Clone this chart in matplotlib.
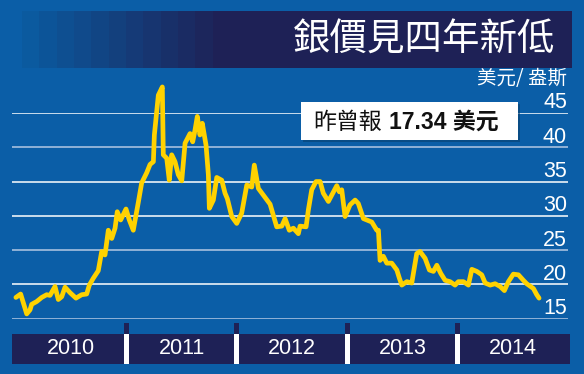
import matplotlib
matplotlib.use('Agg')
from matplotlib import pyplot as plt
from matplotlib import patches, transforms
import numpy as np

# silver price (US$/oz)
dates = [2010.000, 2010.043, 2010.098, 2010.128, 2010.143, 2010.188, 2010.234,
         2010.279, 2010.309, 2010.354, 2010.384, 2010.415, 2010.445, 2010.490,
         2010.544, 2010.596, 2010.641, 2010.665, 2010.701, 2010.746, 2010.777,
         2010.807, 2010.837, 2010.868, 2010.898, 2010.918, 2010.949, 2010.997,
         2011.027, 2011.063, 2011.109, 2011.139, 2011.185, 2011.215, 2011.245,
         2011.254, 2011.290, 2011.326, 2011.335, 2011.366, 2011.389, 2011.411,
         2011.441, 2011.471, 2011.502, 2011.532, 2011.577, 2011.601, 2011.622,
         2011.643, 2011.667, 2011.688, 2011.722, 2011.743, 2011.752, 2011.788,
         2011.819, 2011.864, 2011.894, 2011.915, 2011.955, 2012.000, 2012.045,
         2012.091, 2012.136, 2012.159, 2012.196, 2012.302, 2012.362, 2012.408,
         2012.438, 2012.476, 2012.513, 2012.558, 2012.573, 2012.628, 2012.649,
         2012.679, 2012.718, 2012.755, 2012.784, 2012.830, 2012.870, 2012.906,
         2012.929, 2012.951, 2012.981, 2013.026, 2013.072, 2013.101, 2013.147,
         2013.223, 2013.268, 2013.283, 2013.298, 2013.328, 2013.359, 2013.404,
         2013.450, 2013.473, 2013.495, 2013.540, 2013.585, 2013.630, 2013.660,
         2013.706, 2013.745, 2013.781, 2013.812, 2013.848, 2013.887, 2013.932,
         2013.977, 2014.007, 2014.053, 2014.098, 2014.129, 2014.174, 2014.219,
         2014.250, 2014.295, 2014.340, 2014.385, 2014.424, 2014.460, 2014.505,
         2014.551, 2014.596, 2014.626, 2014.687, 2014.717, 2014.738]
prices = [18.1, 18.6, 15.7, 16.3, 17.1, 17.5, 18.1,
          18.5, 18.4, 19.7, 17.8, 18.2, 19.6, 18.8,
          18.0, 18.5, 18.6, 19.9, 20.9, 22.0, 24.8,
          24.3, 27.9, 26.7, 28.2, 30.6, 29.4, 31.0,
          29.4, 27.9, 32.0, 34.8, 36.3, 37.5, 37.9,
          41.8, 47.6, 48.8, 38.9, 38.4, 35.2, 38.9,
          37.9, 36.0, 35.1, 40.6, 42.0, 40.8, 42.5,
          44.5, 41.8, 43.5, 40.3, 36.0, 31.1, 32.3,
          35.6, 35.2, 33.3, 32.5, 29.9, 28.9, 30.4,
          34.5, 34.2, 37.4, 34.0, 31.7, 28.4, 28.5,
          29.6, 27.9, 28.2, 27.4, 28.5, 28.4, 30.9,
          33.8, 35.0, 35.0, 33.3, 32.1, 33.3, 34.4,
          33.5, 33.8, 29.9, 31.6, 32.3, 31.8, 29.6,
          29.1, 27.9, 27.9, 23.5, 24.1, 23.1, 23.1,
          22.1, 20.9, 19.9, 20.4, 20.2, 24.5, 24.8,
          23.8, 22.1, 21.9, 22.8, 21.6, 20.6, 20.4,
          19.9, 20.4, 20.4, 19.9, 22.2, 21.9, 21.4,
          20.2, 19.9, 20.1, 19.7, 19.1, 20.4, 21.5,
          21.4, 20.6, 20.1, 19.4, 18.5, 18.0]
y_ticks = [15, 20, 25, 30, 35, 40, 45]
years = [2010, 2011, 2012, 2013, 2014]
title = '銀價見四年新低'
unit = '美元/ 盎斯'
note_a = '昨曾報'
note_b = '17.34 美元'

W, H = 584, 374
BLUE = '#0b5ea7'
NAVY = '#1e2156'
GOLD = '#ffd200'
CJK = ['Noto Sans CJK TC', 'DejaVu Sans']
LAT = ['Liberation Sans', 'Noto Sans CJK TC']

fig = plt.figure(figsize=(W / 100, H / 100), dpi=100, facecolor=BLUE)

# background layer in pixel coords
bg = fig.add_axes([0, 0, 1, 1], zorder=0)
bg.set_xlim(0, W)
bg.set_ylim(H, 0)
bg.axis('off')

# title bar: stepped gradient on the left, then navy
steps = np.linspace(0, 1, 12)
c0 = np.array(matplotlib.colors.to_rgb('#0b5a9f'))
c1 = np.array(matplotlib.colors.to_rgb(NAVY))
grad = np.array([[c0 + (c1 - c0) * s for s in steps]])
bg.imshow(grad, extent=(22, 230, 68, 11), aspect='auto', interpolation='nearest')
bg.add_patch(patches.Rectangle((229, 11), 343, 57, color=NAVY, lw=0))
bg.text(555, 40, title, color='white', fontsize=27, family=CJK,
        ha='right', va='center')
bg.text(567, 78, unit, color='white', fontsize=14, family=CJK,
        ha='right', va='center')

# bottom year bar
bg.add_patch(patches.Rectangle((12, 334), 558, 30, color=NAVY, lw=0))

# data layer
ax = fig.add_axes([12 / W, 1 - 318.7 / H, 556 / W, (318.7 - 113) / H], zorder=1)
x0 = 2010 - 3.9 / 110.4
ax.set_xlim(x0, 2015)
ax.set_ylim(15, 45)
ax.axis('off')

grid_colors = ['#b4c8e4', 'white', '#b4c8e4', 'white', 'white', '#b4c8e4', 'white']
ax.hlines(y_ticks, x0, 2015, colors=grid_colors, lw=1.1, zorder=1)
ax.plot(dates, prices, color=GOLD, lw=3.4, solid_joinstyle='round',
        solid_capstyle='round', clip_on=False, zorder=3)

px_y = transforms.blended_transform_factory(bg.transData, ax.transData)
yr_px = transforms.blended_transform_factory(ax.transData, bg.transData)

for v in y_ticks:
    ax.text(567, v + 0.66, str(v), transform=px_y, color='white', fontsize=15.5,
            family=LAT, ha='right', va='baseline', zorder=4)

dx = 2.35 / 110.4
for y in years:
    ax.text(y + 0.5, 349, str(y), transform=yr_px, color='white', fontsize=15.5,
            family=LAT, ha='center', va='center', clip_on=False)
for y in years[1:]:
    ax.add_patch(patches.Rectangle((y - dx, 323), 2 * dx, 11, transform=yr_px,
                                   color=NAVY, lw=0, clip_on=False))
    ax.add_patch(patches.Rectangle((y - dx, 334), 2 * dx, 30, transform=yr_px,
                                   color='white', lw=0, clip_on=False))

# callout box
ax.add_patch(patches.Rectangle((303, 104), 217, 38, transform=bg.transData,
                               color='#08406f', alpha=0.6, lw=0, zorder=5, clip_on=False))
ax.add_patch(patches.Rectangle((301, 102), 217, 38, transform=bg.transData,
                               color='white', lw=0, zorder=6, clip_on=False))
ax.text(313, 122, note_a, transform=bg.transData, color='#111111', fontsize=16.5,
        family=CJK, ha='left', va='center', zorder=7)
ax.text(389, 122, note_b, transform=bg.transData, color='#111111', fontsize=16.5,
        family=LAT, weight='bold', ha='left', va='center', zorder=7)

fig.savefig('out.png', dpi=100, facecolor=BLUE)
